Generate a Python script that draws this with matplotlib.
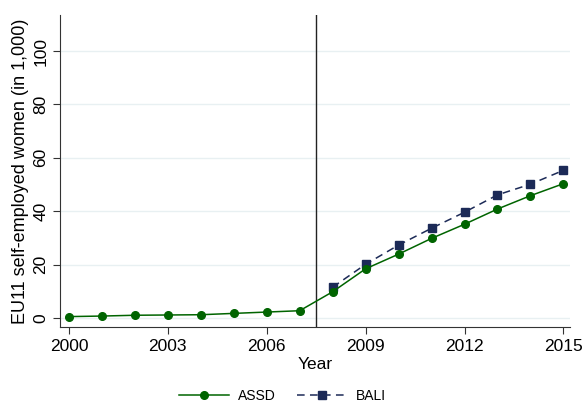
import matplotlib
matplotlib.use("Agg")
import matplotlib.pyplot as plt

plt.rcParams['font.family'] = ['Liberation Sans', 'DejaVu Sans']

years_assd = [2000, 2001, 2002, 2003, 2004, 2005, 2006, 2007, 2008, 2009, 2010, 2011, 2012, 2013, 2014, 2015]
assd = [0.5, 0.7, 1.0, 1.1, 1.2, 1.7, 2.2, 2.7, 9.8, 18.4, 23.9, 29.8, 35.1, 40.8, 45.8, 50.3]
years_bali = [2008, 2009, 2010, 2011, 2012, 2013, 2014, 2015]
bali = [11.5, 20.1, 27.3, 33.6, 39.6, 46.1, 50.1, 55.3]
xticks = [2000, 2003, 2006, 2009, 2012, 2015]
yticks = [0, 20, 40, 60, 80, 100]

green = '#006400'
navy = '#1c2a57'

fig = plt.figure(figsize=(5.83, 4.03), dpi=100)
ax = fig.add_axes([60/583, 1-327/403, (570-60)/583, (327-15)/403])

for y in yticks:
    ax.axhline(y, color='#e8f0f2', lw=1.0, zorder=0)

ax.axvline(2007.5, color='#222222', lw=1.0, zorder=1)

ax.plot(years_assd, assd, color=green, lw=1.1, marker='o', ms=5.5, label='ASSD', zorder=3)
ax.plot(years_bali, bali, color=navy, lw=1.1, ls=(0, (5, 3.5)), marker='s', ms=5.5, label='BALI', zorder=2)

ax.set_xlim(1999.73, 2015.2)
ax.set_ylim(-3.4, 113.5)
ax.set_xticks(xticks)
ax.set_yticks(yticks)
ax.tick_params(axis='both', direction='out', length=5, width=0.8, labelsize=12.5, color='#333333')
ax.tick_params(axis='y', labelrotation=90)
for lbl in ax.get_yticklabels():
    lbl.set_va('center')
ax.spines['top'].set_visible(False)
ax.spines['right'].set_visible(False)
ax.spines['left'].set_color('#333333')
ax.spines['bottom'].set_color('#333333')
ax.set_xlabel('Year', fontsize=12.5, labelpad=2)
ax.set_ylabel('EU11 self-employed women (in 1,000)', fontsize=13, labelpad=3)

leg = fig.legend(loc='center', bbox_to_anchor=(0.485, 1-396/403), ncol=2, frameon=False,
                 fontsize=10, handlelength=3.6, handletextpad=0.65, columnspacing=1.5,
                 borderpad=0, borderaxespad=0)

fig.savefig('out.png', dpi=100)
